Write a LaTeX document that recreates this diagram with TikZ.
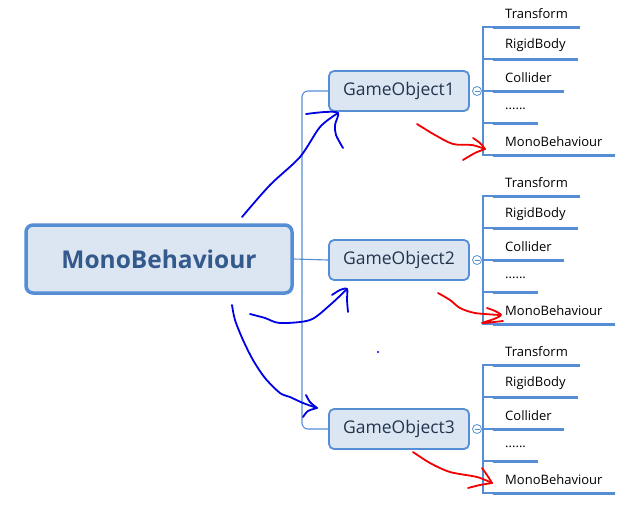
\documentclass[tikz,border=0pt]{standalone}
\usepackage{fontspec}
\setmainfont{Open Sans}
\definecolor{boxline}{RGB}{85,142,213}
\definecolor{boxfill}{RGB}{220,230,242}
\definecolor{roottext}{RGB}{52,89,140}
\definecolor{objtext}{RGB}{35,52,78}
\definecolor{inkblue}{RGB}{0,0,230}
\definecolor{inkred}{RGB}{240,0,0}
\newcommand\leafdots{......}
\begin{document}
\begin{tikzpicture}[x=1pt,y=-1pt,
	rootbox/.style={draw=boxline, fill=boxfill, rounded corners=7pt, line width=3.5pt, minimum width=266pt, minimum height=68pt, font=\fontsize{24.5}{28}\selectfont\bfseries, text=roottext},
	objbox/.style={draw=boxline, fill=boxfill, rounded corners=5pt, line width=1.8pt, minimum width=140pt, minimum height=40pt, font=\fontsize{17.5}{20}\selectfont, text=objtext},
	fold/.style={circle, draw=boxline, fill=white, line width=0.8pt, minimum size=9pt, inner sep=0pt,
		path picture={\draw[boxline, line width=0.8pt] ([xshift=-2.5pt]path picture bounding box.center) -- ++(5pt,0);}},
	leaf/.style={anchor=south west, inner xsep=12pt, inner ysep=0pt, minimum height=27pt, font=\fontsize{13}{15}\selectfont},
	leafline/.style={boxline, line width=3pt},
	branch/.style={boxline, line width=1.1pt},
	ink/.style={inkblue, line width=1.8pt, line cap=round, line join=round},
	redink/.style={inkred, line width=1.8pt, line cap=round, line join=round}]
	\useasboundingbox (0,0) rectangle (632,507);
	\node[rootbox] (root) at (159,259) {MonoBehaviour};
	\coordinate (trunk) at (302,260);
	\foreach \g/\y in {1/27,2/196,3/365}{
		\node[objbox] (go\g) at (399,\y+64) {GameObject\g};
		\node[fold] (c\g) at (477,\y+64) {};
		\foreach \t [count=\i] in {Transform,RigidBody,Collider,\leafdots,MonoBehaviour}{
			\node[leaf] (l\g\i) at (493,\y+32*\i-32) {\t};
			\draw[leafline] (l\g\i.south west) -- (l\g\i.south east);
			\draw[branch] (l\g\i.south west) -- ++(-10,0);
		}
		\draw[branch] (l\g1.south west) -- ++(-10,0) |- (l\g5.south west);
		\draw[branch] (c\g.east) -- ++(6,0);
	}
	\draw[branch] (root.east) -- (go2.west);
	\draw[branch, rounded corners=6pt] (go1.west) -| (trunk) |- (go3.west);
	% blue pen strokes
	\draw[ink] plot[smooth] coordinates {(242,217) (270,185) (300,157) (320,127) (338,113)};
	\draw[ink] plot[smooth] coordinates {(306,114) (325,112) (338,113) (335,125) (336,135) (343,148)};
	\draw[ink] plot[smooth] coordinates {(250,314) (265,318) (280,323) (310,320) (330,305) (347,289)};
	\draw[ink] plot[smooth] coordinates {(332,295) (340,290) (347,289) (347,300) (348,312)};
	\draw[ink] plot[smooth] coordinates {(232,305) (235,320) (243,340) (253,360) (265,378) (280,393) (290,397) (303,403) (317,408)};
	\draw[ink] plot[smooth] coordinates {(306,395) (310,402) (317,408)};
	\draw[ink] plot[smooth] coordinates {(303,417) (308,411) (317,408)};
	\fill[inkblue] (378,352) circle (1.1);
	% red pen strokes
	\draw[redink] plot[smooth] coordinates {(417,124) (435,135) (453,144) (472,145) (485,149)};
	\draw[redink] plot[smooth] coordinates {(473,138) (480,143) (485,149)};
	\draw[redink] plot[smooth] coordinates {(463,160) (475,153) (485,149)};
	\draw[redink] plot[smooth] coordinates {(438,293) (450,300) (460,308) (475,313) (500,315)};
	\draw[redink] plot[smooth] coordinates {(487,308) (495,311) (501,315) (494,319) (482,323) (494,322) (503,321)};
	\draw[redink] plot[smooth] coordinates {(413,452) (430,463) (450,472) (477,477) (492,483)};
	\draw[redink] plot[smooth] coordinates {(482,468) (487,475) (492,483)};
	\draw[redink] plot[smooth] coordinates {(468,488) (480,485) (492,483)};
\end{tikzpicture}
\end{document}
